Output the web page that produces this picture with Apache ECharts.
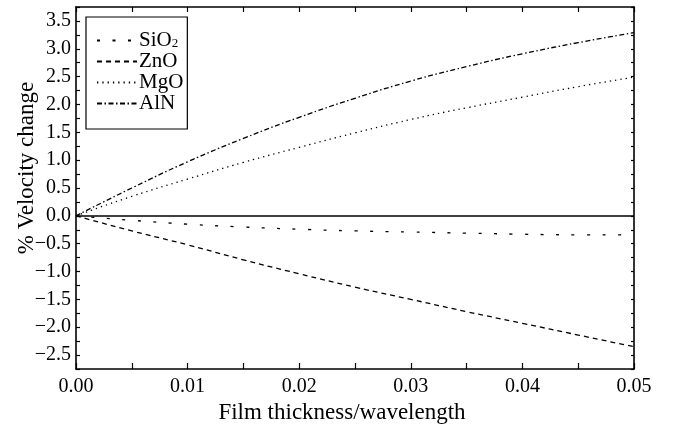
<!DOCTYPE html>
<html>
<head>
<meta charset="utf-8">
<script src="https://cdn.jsdelivr.net/npm/echarts@6/dist/echarts.min.js"></script>
<style>
  html, body { margin: 0; padding: 0; background: #fff; }
  #chart { width: 673px; height: 434px; }
</style>
</head>
<body>
<div id="chart"></div>
<script>
// film thickness / wavelength
var thickness = [0, 0.005, 0.01, 0.015, 0.02, 0.025, 0.03, 0.035, 0.04, 0.045, 0.05];
// % velocity change per film
var sio2 = [0, -0.08, -0.15, -0.20, -0.24, -0.27, -0.29, -0.31, -0.33, -0.34, -0.34];
var zno  = [0, -0.27, -0.52, -0.79, -1.04, -1.28, -1.50, -1.72, -1.93, -2.14, -2.35];
var mgo  = [0, 0.35, 0.66, 0.96, 1.23, 1.49, 1.73, 1.94, 2.13, 2.32, 2.49];
var aln  = [0, 0.50, 0.97, 1.39, 1.77, 2.11, 2.42, 2.68, 2.91, 3.11, 3.29];
var seriesNames = ['SiO2', 'ZnO', 'MgO', 'AlN'];
// tick labels
var xTickLabels = [0, 0.01, 0.02, 0.03, 0.04, 0.05];
var yTickLabels = [-2.5, -2.0, -1.5, -1.0, -0.5, 0.0, 0.5, 1.0, 1.5, 2.0, 2.5, 3.0, 3.5];

var font = "'Liberation Serif', 'DejaVu Serif', serif";

function pairs(ys) {
  return ys.map(function (y, i) { return [thickness[i], y]; });
}

function lineSeries(name, ys, dash) {
  return {
    name: name,
    type: 'line',
    data: pairs(ys),
    smooth: true,
    symbol: 'none',
    showSymbol: false,
    lineStyle: { color: '#000', width: 1.3, type: dash },
    itemStyle: { color: '#000' }
  };
}

var axisLine = { show: true, onZero: false, lineStyle: { color: '#000', width: 1.6 } };

var chart = echarts.init(document.getElementById('chart'), null, { renderer: 'canvas' });

var sio2Series = lineSeries(seriesNames[0], sio2, [3, 12.5]);
// horizontal zero line
sio2Series.markLine = {
  silent: true,
  symbol: 'none',
  label: { show: false },
  lineStyle: { color: '#000', width: 1.5, type: 'solid' },
  data: [{ yAxis: 0 }]
};

chart.setOption({
  animation: false,
  backgroundColor: '#fff',
  textStyle: { fontFamily: font, color: '#000' },
  grid: { left: 76, right: 39, top: 7, bottom: 65, outerBoundsMode: 'none', containLabel: false },
  legend: {
    orient: 'vertical',
    left: 86,
    top: 17,
    data: seriesNames,
    itemWidth: 40,
    itemHeight: 14,
    itemGap: 0,
    padding: [13, 4, 15, 10],
    borderColor: '#000',
    borderWidth: 1.2,
    itemStyle: { opacity: 0 },
    formatter: function (name) {
      return name === 'SiO2' ? 'SiO{sub|2}' : name;
    },
    textStyle: {
      fontFamily: font,
      fontSize: 21,
      color: '#000',
      lineHeight: 20,
      padding: [0, 0, 0, -3],
      rich: {
        sub: { fontFamily: font, fontSize: 13, verticalAlign: 'bottom', padding: [10, 0, 0, 0] }
      }
    }
  },
  xAxis: [{
    type: 'value',
    min: 0,
    max: 0.05,
    interval: 0.005,
    name: 'Film thickness/wavelength',
    nameLocation: 'middle',
    nameGap: 30,
    nameTextStyle: { fontFamily: font, fontSize: 23, color: '#000', padding: [0, 26, 0, 0] },
    axisLine: axisLine,
    axisTick: { show: true, inside: true, length: 6, lineStyle: { color: '#000', width: 1.2 } },
    axisLabel: {
      customValues: xTickLabels,
      fontFamily: font, fontSize: 20, color: '#000', margin: 8,
      formatter: function (v) { return v.toFixed(2); }
    },
    splitLine: { show: false }
  }, {
    type: 'value',
    position: 'top',
    min: 0,
    max: 0.05,
    interval: 0.005,
    axisLine: axisLine,
    axisTick: { show: true, inside: true, length: 5, lineStyle: { color: '#000', width: 1.2 } },
    axisLabel: { show: false },
    splitLine: { show: false }
  }],
  yAxis: [{
    type: 'value',
    min: -2.75,
    max: 3.75,
    interval: 0.25,
    name: '% Velocity change',
    nameLocation: 'middle',
    nameGap: 38,
    nameMoveOverlap: false,
    nameTextStyle: { fontFamily: font, fontSize: 23, color: '#000', padding: [0, 0, 0, 40] },
    axisLine: axisLine,
    axisTick: { show: true, inside: true, length: 4, lineStyle: { color: '#000', width: 1.2 } },
    axisLabel: {
      customValues: yTickLabels,
      fontFamily: font, fontSize: 20, color: '#000', margin: 5,
      formatter: function (v) {
        var s = Math.abs(v).toFixed(1);
        return v < 0 ? '\u2212' + s : s;
      }
    },
    splitLine: { show: false }
  }, {
    type: 'value',
    position: 'right',
    min: -2.75,
    max: 3.75,
    interval: 0.25,
    axisLine: axisLine,
    axisTick: { show: true, inside: true, length: 3, lineStyle: { color: '#000', width: 1.2 } },
    axisLabel: { show: false },
    splitLine: { show: false }
  }],
  series: [
    sio2Series,
    lineSeries(seriesNames[1], zno, [5, 4]),
    lineSeries(seriesNames[2], mgo, [1.3, 4]),
    lineSeries(seriesNames[3], aln, [5, 2.5, 1.5, 2.5])
  ]
});
</script>
</body>
</html>
